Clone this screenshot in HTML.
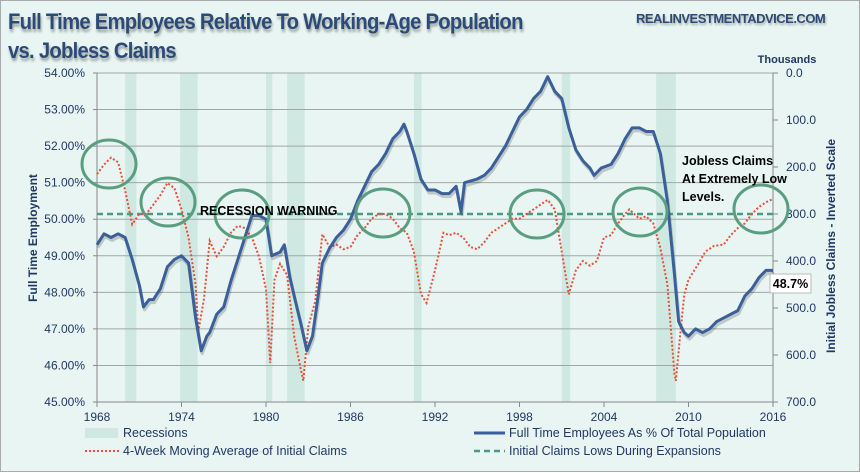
<!DOCTYPE html>
<html><head><meta charset="utf-8"><style>
body{margin:0;background:#fff;}
#wrap{position:relative;width:860px;height:472px;background:#e9f5f2;border:1px solid #aaa;box-sizing:border-box;font-family:"Liberation Sans",sans-serif;}
.title{position:absolute;left:7px;font-weight:bold;font-size:22px;color:#2c4a78;letter-spacing:-0.8px;text-shadow:1px 3px 3px rgba(0,0,0,0.35);transform:scaleX(0.92);transform-origin:left;}
svg text{font-family:"Liberation Sans",sans-serif;}
</style></head><body>
<div id="wrap">
<div class="title" style="top:8px">Full Time Employees Relative To Working-Age Population</div>
<div class="title" style="top:37px">vs. Jobless Claims</div>
<div style="position:absolute;left:635px;top:10px;font-weight:bold;font-size:13px;color:#2c4a78;letter-spacing:-0.5px;text-shadow:1px 2px 2px rgba(0,0,0,0.3)">REALINVESTMENTADVICE.COM</div>
<svg id="chart" width="860" height="472" style="position:absolute;left:0;top:0"></svg>
</div>
<script>
const years=[1968,1974,1980,1986,1992,1998,2004,2010,2016];
const leftTicks=[54,53,52,51,50,49,48,47,46,45];
const rightTicks=[0,100,200,300,400,500,600,700];
const recessions=[[1970.0,1970.8],[1973.9,1975.15],[1980.0,1980.45],[1981.5,1982.75],[1990.5,1991.05],[2001.0,2001.6],[2007.7,2009.1]];
const empYears=[1968,1968.5,1969,1969.5,1970,1970.5,1971,1971.3,1971.7,1972,1972.5,1973,1973.5,1974,1974.5,1975,1975.4,1975.8,1976,1976.5,1977,1977.5,1978,1978.5,1979,1979.5,1980,1980.4,1981,1981.3,1981.7,1982,1982.5,1982.9,1983.3,1983.7,1984,1984.5,1985,1985.5,1986,1986.5,1987,1987.5,1988,1988.5,1989,1989.5,1989.8,1990,1990.5,1991,1991.5,1992,1992.5,1993,1993.5,1993.85,1994.1,1995,1995.5,1996,1996.5,1997,1997.5,1998,1998.5,1999,1999.5,2000,2000.5,2001,2001.5,2002,2002.5,2003,2003.3,2003.8,2004.5,2005,2005.5,2006,2006.5,2007,2007.5,2008,2008.5,2009,2009.3,2009.7,2010,2010.5,2011,2011.5,2012,2012.5,2013,2013.5,2014,2014.5,2015,2015.5,2016];
const empValues=[49.3,49.6,49.5,49.6,49.5,48.9,48.2,47.6,47.8,47.8,48.1,48.7,48.9,49.0,48.8,47.3,46.4,46.8,46.9,47.4,47.6,48.3,48.9,49.5,50.1,50.1,50.0,49.0,49.1,49.3,48.4,47.9,47.1,46.4,46.8,47.9,48.8,49.2,49.5,49.7,50.0,50.5,50.9,51.3,51.5,51.8,52.2,52.4,52.6,52.4,51.8,51.1,50.8,50.8,50.7,50.7,50.9,50.2,51.0,51.1,51.2,51.4,51.7,52.0,52.4,52.8,53.0,53.3,53.5,53.9,53.5,53.3,52.5,51.9,51.6,51.4,51.2,51.4,51.5,51.8,52.2,52.5,52.5,52.4,52.4,51.8,50.5,48.5,47.2,46.9,46.8,47.0,46.9,47.0,47.2,47.3,47.4,47.5,47.9,48.1,48.4,48.6,48.6];
const claimYears=[1968,1968.5,1969,1969.5,1970,1970.5,1971,1971.5,1972,1972.5,1973,1973.5,1974,1974.5,1975,1975.2,1975.6,1976,1976.5,1977,1977.5,1978,1978.5,1979,1979.5,1980,1980.3,1980.6,1981,1981.5,1982,1982.4,1982.65,1983,1983.5,1984,1984.5,1985,1985.5,1986,1986.5,1987,1987.5,1988,1988.5,1989,1989.5,1990,1990.5,1991,1991.4,1992,1992.6,1993,1993.5,1994,1994.5,1995,1995.5,1996,1996.5,1997,1997.5,1998,1998.5,1999,1999.5,2000,2000.5,2001,2001.5,2002,2002.5,2003,2003.5,2004,2004.5,2005,2005.5,2005.8,2006.5,2007,2007.5,2008,2008.5,2009,2009.1,2009.4,2009.7,2010,2010.7,2011.2,2011.8,2012.5,2013,2013.5,2014,2014.5,2015,2015.5,2016];
const claimValues=[215,195,180,190,250,322,300,300,280,260,234,245,290,350,450,549,480,357,390,370,340,325,330,350,390,460,617,440,406,430,560,620,655,540,485,343,370,365,375,370,345,330,310,300,300,310,330,340,380,470,489,420,340,345,340,350,370,375,360,340,330,320,310,310,300,290,280,270,290,380,471,420,400,410,400,350,345,320,300,290,310,305,320,372,450,640,655,560,471,440,406,380,368,365,345,330,320,300,285,275,268];
const claimsLow=[300];
const lastValue=["48.7%"];

const NS="http://www.w3.org/2000/svg";
const svg=document.getElementById('chart');
const X0=96,X1=772,Y0=72,Y1=401;
const xs=y=>X0+(y-1968)*(X1-X0)/48;
const yl=v=>Y0+(54-v)*(Y1-Y0)/9;
const yr=v=>Y0+v*(Y1-Y0)/700;
function mk(tag,attrs,parent){const e=document.createElementNS(NS,tag);for(const k in attrs)e.setAttribute(k,attrs[k]);(parent||svg).appendChild(e);return e;}

const gRec=mk('g',{});


recessions.forEach(r=>{const b=mk('rect',{x:xs(r[0]),y:Y0,width:xs(r[1])-xs(r[0]),height:Y1-Y0,fill:'#cfe9e2'},gRec);

});

// gridlines
const gg=mk('g',{stroke:'#a0a8a6','stroke-width':1});


leftTicks.forEach(v=>{if(v!==45)mk('line',{x1:X0,x2:X1,y1:yl(v),y2:yl(v)},gg);});

// axes
const ax=mk('g',{stroke:'#888','stroke-width':1});


mk('line',{x1:X0,y1:Y0,x2:X0,y2:Y1},ax);
mk('line',{x1:X1,y1:Y0,x2:X1,y2:Y1},ax);
mk('line',{x1:X0,y1:Y1,x2:X1,y2:Y1},ax);
leftTicks.forEach(v=>{mk('line',{x1:X0-4,y1:yl(v),x2:X0,y2:yl(v)},ax);
const t=mk('text',{x:X0-12,y:yl(v)+4,'text-anchor':'end','font-size':12,fill:'#1f3864'});t.textContent=v.toFixed(2)+'%';

});
rightTicks.forEach(v=>{mk('line',{x1:X1,y1:yr(v),x2:X1+5,y2:yr(v)},ax);
const t=mk('text',{x:X1+13,y:yr(v)+4,'font-size':12,fill:'#1f3864'});t.textContent=v.toFixed(1);

});
years.forEach(y=>{mk('line',{x1:xs(y),y1:Y1,x2:xs(y),y2:Y1+5},ax);
const t=mk('text',{x:xs(y),y:Y1+19,'text-anchor':'middle','font-size':12,fill:'#1f3864'});t.textContent=y;

});

// axis titles
let t=mk('text',{x:0,y:0,transform:`translate(36,237) rotate(-90)`,'text-anchor':'middle','font-size':12,'font-weight':'bold',fill:'#1f3864'});t.textContent='Full Time Employment';


t=mk('text',{x:0,y:0,transform:`translate(834,245) rotate(-90)`,'text-anchor':'middle','font-size':12,'font-weight':'bold',fill:'#1f3864'});t.textContent='Initial Jobless Claims - Inverted Scale';


t=mk('text',{x:786,y:62,'text-anchor':'middle','font-size':11,'font-weight':'bold',fill:'#1f3864'});t.textContent='Thousands';



// lows dashed
const dl=mk('line',{x1:X0,x2:X1,y1:yr(claimsLow[0]),y2:yr(claimsLow[0]),stroke:'#4a9c80','stroke-width':2.5,'stroke-dasharray':'6,4'});



// claims series
const cp=mk('polyline',{points:claimYears.map((y,i)=>xs(y)+','+yr(claimValues[i])).join(' '),fill:'none',stroke:'#e8503a','stroke-width':2,'stroke-dasharray':'2,2'});



// employment series shadow + line
const es=mk('polyline',{points:empYears.map((y,i)=>(xs(y)+1)+','+(yl(empValues[i])+3)).join(' '),fill:'none',stroke:'rgba(0,0,0,0.18)','stroke-width':3,'stroke-linejoin':'round'});


const ep=mk('polyline',{points:empYears.map((y,i)=>xs(y)+','+yl(empValues[i])).join(' '),fill:'none',stroke:'#3a5f9a','stroke-width':3,'stroke-linejoin':'round'});



// circles
[[108,163],[167,201],[241,213],[382,212],[536,213],[639,211],[760,208]].forEach(c=>{const e=mk('ellipse',{cx:c[0],cy:c[1],rx:27,ry:24,fill:'none',stroke:'#5a9e82','stroke-width':3});

});

t=mk('text',{x:199,y:214,'font-size':12.5,'font-weight':'bold',fill:'#000'});t.textContent='RECESSION WARNING';


['Jobless Claims','At Extremely Low','Levels.'].forEach((s,i)=>{const a=mk('text',{x:681,y:164+i*18,'font-size':12.5,'font-weight':'bold',fill:'#000'});a.textContent=s;

});
const lb=mk('rect',{x:769,y:273,width:41,height:19,fill:'#fff',stroke:'#bbb'});


t=mk('text',{x:789.5,y:287,'text-anchor':'middle','font-size':12.5,'font-weight':'bold',fill:'#000'});t.textContent=lastValue[0];



// legend
const lg=mk('g',{});


mk('rect',{x:84,y:427,width:33,height:10,fill:'#cfe9e2'},lg);
mk('line',{x1:84,x2:120,y1:450,y2:450,stroke:'#e8503a','stroke-width':2,'stroke-dasharray':'2,2'},lg);
mk('line',{x1:473,x2:504,y1:432,y2:432,stroke:'#3a5f9a','stroke-width':3},lg);
mk('line',{x1:473,x2:504,y1:450,y2:450,stroke:'#4a9c80','stroke-width':2.5,'stroke-dasharray':'6,4'},lg);
[['Recessions',122,436],['4-Week Moving Average of Initial Claims',122,454],['Full Time Employees As % Of Total Population',508,436],['Initial Claims Lows During Expansions',508,454]].forEach(l=>{const a=mk('text',{x:l[1],y:l[2],'font-size':12.5,fill:'#1f3864'},lg);a.textContent=l[0];

});
</script>
</body></html>
